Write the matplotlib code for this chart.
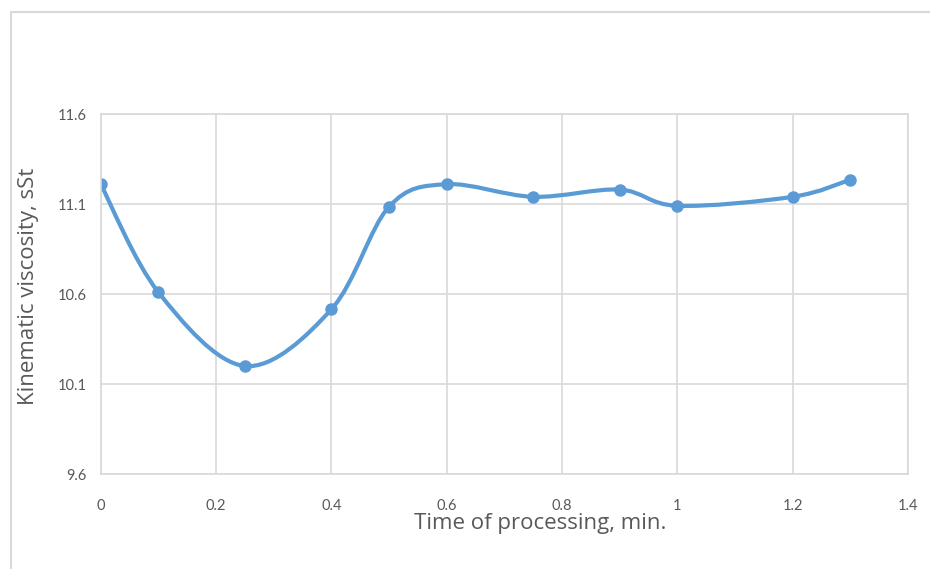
import numpy as np
import matplotlib
matplotlib.use("Agg")
import matplotlib.pyplot as plt
from matplotlib.patches import Rectangle
from matplotlib.path import Path
from matplotlib.patches import PathPatch

# processing time (min) and measured viscosity (sSt)
time_min = [0.0, 0.1, 0.25, 0.4, 0.5, 0.6, 0.75, 0.9, 1.0, 1.2, 1.3]
viscosity = [11.21, 10.61, 10.20, 10.515, 11.085, 11.21, 11.14, 11.18, 11.09, 11.14, 11.235]

x_ticks = [0, 0.2, 0.4, 0.6, 0.8, 1, 1.2, 1.4]
x_tick_labels = ["0", "0.2", "0.4", "0.6", "0.8", "1", "1.2", "1.4"]
y_ticks = [9.6, 10.1, 10.6, 11.1, 11.6]
y_tick_labels = ["9.6", "10.1", "10.6", "11.1", "11.6"]

BLUE = "#5b9bd5"
GRID = "#d9d9d9"
TEXT = "#595959"


def smooth_path(xs, ys):
    """Excel-like smoothed line: cubic Bezier segments, Catmull-Rom controls."""
    pts = np.column_stack([xs, ys])
    verts = [pts[0]]
    codes = [Path.MOVETO]
    n = len(pts)
    for i in range(n - 1):
        p0 = pts[i - 1] if i > 0 else pts[i]
        p1 = pts[i]
        p2 = pts[i + 1]
        p3 = pts[i + 2] if i + 2 < n else pts[i + 1]
        c1 = p1 + (p2 - p0) / 6.0
        c2 = p2 - (p3 - p1) / 6.0
        verts += [c1, c2, p2]
        codes += [Path.CURVE4] * 3
    return Path(verts, codes)


fig = plt.figure(figsize=(9.3, 5.69), dpi=100)
fig.patch.set_facecolor("white")

# outer chart border
fig.patches.append(Rectangle((11 / 930, -0.1), 1.2, 1.1 - 12 / 569,
                             transform=fig.transFigure, fill=False,
                             edgecolor=GRID, linewidth=1.5))

ax = fig.add_axes([100.7 / 930, (569 - 474) / 569, 807.3 / 930, 360 / 569])
ax.set_xlim(0, 1.4)
ax.set_ylim(9.6, 11.6)

ax.set_xticks(x_ticks)
ax.set_xticklabels(x_tick_labels)
ax.set_yticks(y_ticks)
ax.set_yticklabels(y_tick_labels)
ax.grid(True, color=GRID, linewidth=1.2)
ax.set_axisbelow(True)
for s in ax.spines.values():
    s.set_color(GRID)
    s.set_linewidth(1.2)
ax.tick_params(length=0, colors=TEXT, labelsize=10.5)
ax.tick_params(axis="x", pad=18)
ax.tick_params(axis="y", pad=10)
for lab in ax.get_xticklabels() + ax.get_yticklabels():
    lab.set_family(["Lato", "DejaVu Sans"])

ax.add_patch(PathPatch(smooth_path(time_min, viscosity), fill=False,
                       edgecolor=BLUE, linewidth=3, capstyle="round"))
ax.plot(time_min, viscosity, linestyle="none", marker="o", markersize=8,
        color=BLUE)

ax.set_xlabel("Time of processing, min.", fontsize=16, color=TEXT,
              family=["Open Sans", "DejaVu Sans"])
ax.xaxis.set_label_coords(0.545, -0.108)
ax.set_ylabel("Kinematic viscosity, sSt", fontsize=16, color=TEXT,
              family=["Open Sans", "DejaVu Sans"])
ax.yaxis.set_label_coords(-0.076, 0.52)

fig.savefig("out.png", dpi=100)
